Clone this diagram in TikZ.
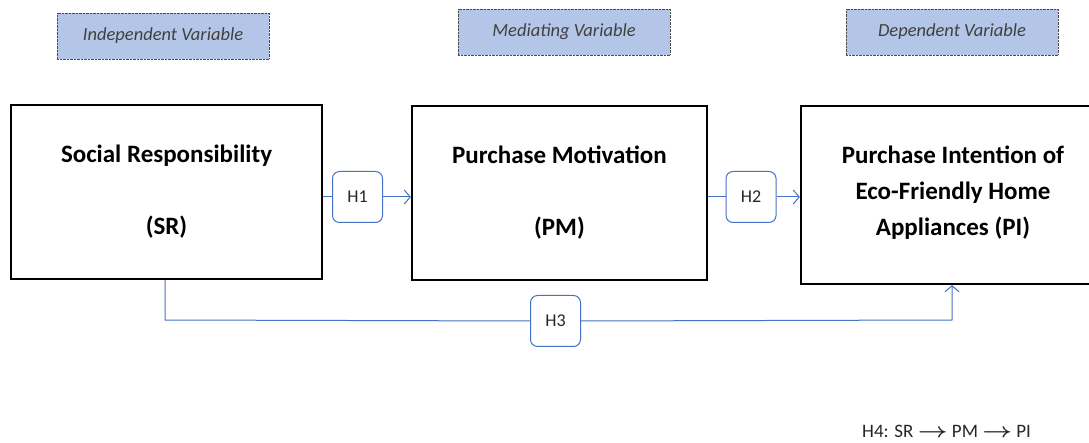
\documentclass[tikz,border=0pt]{standalone}
\usepackage{amsmath}
\usepackage{fontspec}
\setmainfont{Carlito}
\usetikzlibrary{arrows.meta,positioning}
\definecolor{hdrfill}{HTML}{B4C6E7}
\definecolor{hdrtext}{HTML}{404040}
\definecolor{lnblue}{HTML}{4472C4}
\tikzset{
  hdr/.style={draw=black!70, densely dotted, fill=hdrfill, minimum width=212pt, minimum height=46pt, inner sep=0pt, font=\fontsize{18.5}{22}\selectfont\itshape, text=hdrtext},
  mainbox/.style={draw=black, line width=2.2pt, minimum height=174pt, inner sep=0pt, align=center, font=\fontsize{25}{36}\selectfont\bfseries},
  hbox/.style={draw=lnblue, line width=1pt, fill=white, rounded corners=7pt, minimum width=50pt, minimum height=51pt, inner sep=0pt, font=\fontsize{18}{20}\selectfont, text=black!85},
  conn/.style={draw=lnblue, line width=1pt},
  tip/.style={-{Straight Barb[length=6pt,width=14pt]}}
}
\begin{document}
\begin{tikzpicture}[x=1pt,y=-1pt]
\useasboundingbox (0,0) rectangle (1089,443);
\node[hdr] (hiv) at (163,36) {Independent Variable};
\node[hdr] (hmv) at (564,32) {Mediating Variable};
\node[hdr] (hdv) at (952,32) {Dependent Variable};
\node[mainbox, minimum width=311pt] (sr) at (166.5,192) {Social Responsibility\\[36pt](SR)};
\node[mainbox, minimum width=295pt] (pm) at (559.5,193) {Purchase Motivation\\[36pt](PM)};
\node[mainbox, minimum width=304pt, minimum height=178pt] (pi) at (953,195) {Purchase Intention of\\Eco-Friendly Home\\Appliances (PI)\\[-28pt]};
\node[hbox] (h1) at (357.5,197) {H1};
\node[hbox] (h2) at (751,197) {H2};
\node[hbox] (h3) at (555.5,321) {H3};
\coordinate (c1) at (165,320);
\coordinate (c2) at (952,320);
\draw[conn] (sr.east |- h1) -- (h1.west);
\draw[conn, tip] (h1.east) -- (pm.west |- h1);
\draw[conn] (pm.east |- h2) -- (h2.west);
\draw[conn, tip] (h2.east) -- (pi.west |- h2);
\draw[conn] (sr.south -| c1) -- (c1) -- (h3.west);
\draw[conn, tip] (h3.east) -- (c2) -- (pi.south -| c2);
\node[anchor=west, font=\fontsize{19}{22}\selectfont, text=black!85, inner sep=0pt] (h4) at (862,431) {H4: SR \scalebox{1.5}[1.2]{$\boldsymbol{\rightarrow}$} PM \scalebox{1.5}[1.2]{$\boldsymbol{\rightarrow}$} PI};
\end{tikzpicture}
\end{document}
